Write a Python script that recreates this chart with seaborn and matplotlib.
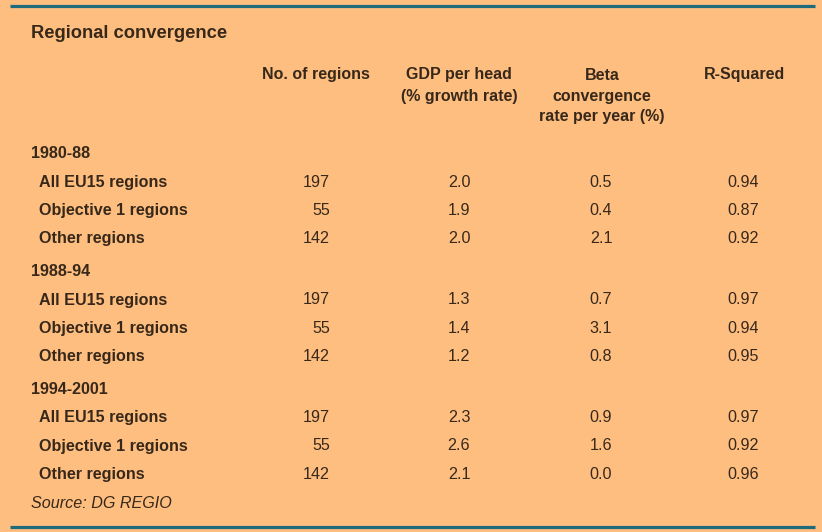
import matplotlib
matplotlib.use('Agg')
import matplotlib.pyplot as plt
import seaborn as sns

# table data
periods = ['1980-88', '1988-94', '1994-2001']
region_types = ['All EU15 regions', 'Objective 1 regions', 'Other regions']
n_regions = [197, 55, 142, 197, 55, 142, 197, 55, 142]
gdp_growth = [2.0, 1.9, 2.0, 1.3, 1.4, 1.2, 2.3, 2.6, 2.1]
beta_rate = [0.5, 0.4, 2.1, 0.7, 3.1, 0.8, 0.9, 1.6, 0.0]
r_squared = [0.94, 0.87, 0.92, 0.97, 0.94, 0.95, 0.97, 0.92, 0.96]
headers = ['No. of regions', 'GDP per head\n(% growth rate)',
           'Beta\nconvergence\nrate per year (%)', 'R-Squared']

sns.set_theme(style='white')
plt.rcParams['font.family'] = ['Liberation Sans', 'DejaVu Sans']

bg = '#FDBE80'
rule = '#1E6B7B'
ink = '#38281A'

fig = plt.figure(figsize=(8.22, 5.32), dpi=100, facecolor=bg)
ax = fig.add_axes([0, 0, 1, 1])
ax.set_facecolor(bg)
ax.set_xlim(0, 822)
ax.set_ylim(532, 0)
ax.axis('off')

# top / bottom rules
ax.hlines([6, 527], 10, 815, color=rule, linewidth=2.3)

ax.text(31, 33, 'Regional convergence', fontsize=13.2, fontweight='bold',
        color=ink, va='center', ha='left')

# column headers
head_x = [316, 459, 602, 744]
for hx, h in zip(head_x, headers):
    for k, line in enumerate(h.split('\n')):
        ax.text(hx, 75 + k * 21, line, fontsize=11.5, fontweight='bold',
                color=ink, ha='center', va='center')

# body rows
row_step = 28.1
group_gap = 5.5
y0 = 154
fs = 11.6
for g, period in enumerate(periods):
    i = g * 4
    y = y0 + i * row_step + g * group_gap
    ax.text(31, y, period, fontsize=fs, fontweight='bold', color=ink,
            ha='left', va='center')
    for r, name in enumerate(region_types):
        idx = g * 3 + r
        y = y0 + (i + r + 1) * row_step + g * group_gap
        ax.text(39, y, name, fontsize=fs, fontweight='bold', color=ink,
                ha='left', va='center')
        ax.text(330, y, f'{n_regions[idx]}', fontsize=fs, color=ink,
                ha='right', va='center')
        ax.text(459, y, f'{gdp_growth[idx]:.1f}', fontsize=fs, color=ink,
                ha='center', va='center')
        ax.text(601, y, f'{beta_rate[idx]:.1f}', fontsize=fs, color=ink,
                ha='center', va='center')
        ax.text(743, y, f'{r_squared[idx]:.2f}', fontsize=fs, color=ink,
                ha='center', va='center')

ax.text(31, 503, 'Source: DG REGIO', fontsize=fs, fontstyle='italic',
        color=ink, ha='left', va='center')

fig.savefig('out.png', dpi=100, facecolor=bg)
